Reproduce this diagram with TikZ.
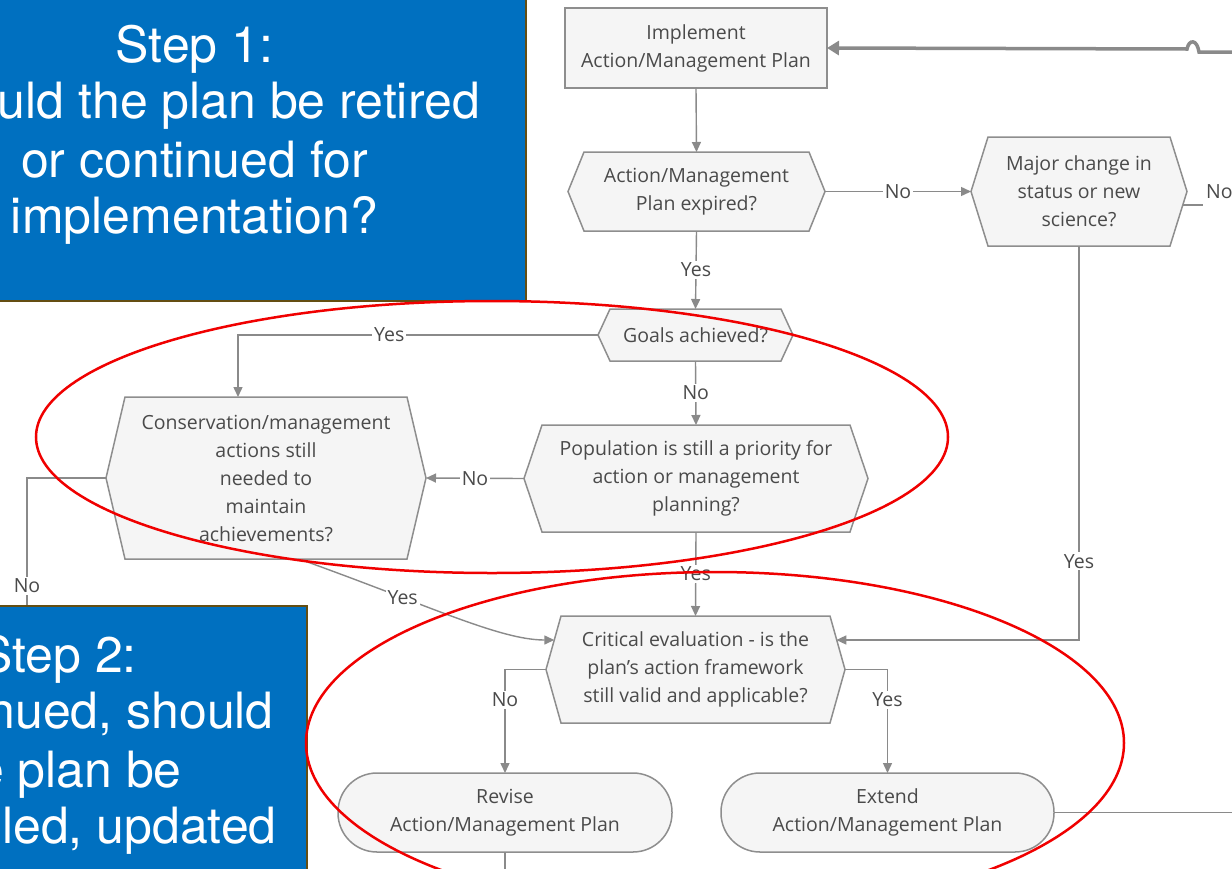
\documentclass[tikz,border=0pt]{standalone}
\usepackage{fontspec}
\setmainfont{Open Sans}
\newfontfamily\heros{TeX Gyre Heros}
\usetikzlibrary{arrows.meta,calc,backgrounds}
\pgfdeclarelayer{bottom}
\pgfsetlayers{bottom,background,main}
\definecolor{nfill}{HTML}{F5F5F5}
\definecolor{nborder}{HTML}{8E8E8E}
\definecolor{tgray}{HTML}{4A4A4A}
\definecolor{lgray}{HTML}{8A8A8A}
\definecolor{stepblue}{HTML}{0070C0}
\definecolor{stepbrown}{RGB}{100,78,18}
\definecolor{ringred}{HTML}{F00000}
\tikzset{
  flow/.style={font=\fontsize{19.5}{28}\selectfont, text=tgray, align=center, inner sep=0pt, outer sep=0pt},
  rectnode/.style={flow, rectangle, draw=nborder, fill=nfill, line width=1.5pt},
  hexbox/.style={flow, rectangle},
  hexline/.style={draw=nborder, fill=nfill, line width=1.5pt, line join=miter},
  stadium/.style={flow, rectangle, rounded corners=39pt, draw=nborder, fill=nfill, line width=1.5pt, minimum width=334pt, minimum height=79pt},
  conn/.style={draw=lgray, line width=1.4pt, -{Triangle[length=10pt,width=9pt]}},
  plainconn/.style={draw=lgray, line width=1.4pt},
  thickconn/.style={draw=lgray, line width=3.5pt, -{Triangle[length=12pt,width=14pt]}},
  lbl/.style={font=\fontsize{19.5}{22}\selectfont, text=tgray, fill=white, inner sep=2pt},
  stepbox/.style={fill=stepblue, draw=stepbrown, line width=2.5pt},
  steptext/.style={font=\heros\fontsize{50}{60}\selectfont, text=white, inner sep=0pt},
  ring/.style={draw=ringred, line width=2.5pt}
}
\newcommand{\hexoutline}[2]{%
  \begin{scope}[on background layer]
  \draw[hexline] ([xshift=#2]#1.north west) -- ([xshift=-#2]#1.north east) -- (#1.east)
    -- ([xshift=-#2]#1.south east) -- ([xshift=#2]#1.south west) -- (#1.west) -- cycle;
  \end{scope}}
\begin{document}
\begin{tikzpicture}[x=1pt,y=-1pt]
\useasboundingbox (0,0) rectangle (1232,868);
\clip (0,0) rectangle (1232,868);
\begin{pgfonlayer}{bottom}
\fill[white] (0,0) rectangle (1232,868);
\end{pgfonlayer}

% ---------- nodes ----------
\node[rectnode, minimum width=262pt, minimum height=80pt] (impl) at (696,48) {Implement\\Action/Management Plan};
\node[hexbox, minimum width=257pt, minimum height=79pt] (expired) at (696.5,191.5) {Action/Management\\Plan expired?};
\hexoutline{expired}{16pt}
\node[hexbox, minimum width=216pt, minimum height=109pt] (major) at (1079,191.5) {Major change in\\status or new\\science?};
\hexoutline{major}{17pt}
\node[hexbox, minimum width=195pt, minimum height=52pt] (goals) at (695.5,335) {Goals achieved?};
\hexoutline{goals}{12pt}
\node[hexbox, minimum width=320pt, minimum height=162pt] (cons) at (266,478) {Conservation/management\\actions still\\needed to\\maintain\\achievements?};
\hexoutline{cons}{19pt}
\node[hexbox, minimum width=344pt, minimum height=107pt] (pop) at (696,478.5) {Population is still a priority for\\action or management\\planning?};
\hexoutline{pop}{18pt}
\node[hexbox, minimum width=299pt, minimum height=107pt] (crit) at (695.5,669.5) {Critical evaluation - is the\\plan's action framework\\still valid and applicable?};
\hexoutline{crit}{15pt}
\node[stadium] (revise) at (505,812.5) {Revise\\Action/Management Plan};
\node[stadium, minimum width=333pt] (extend) at (887.5,812.5) {Extend\\Action/Management Plan};

% ---------- free ends ----------
\coordinate (topR) at (1240,52);
\coordinate (hopR) at (1199,52);
\coordinate (hopL) at (1187,49);
\coordinate (majR) at (1203,205);
\coordinate (consNo) at (27,640);
\coordinate (revB) at (505,880);
\coordinate (extR) at (1240,812.5);
\coordinate (critR) at ($(crit.east)+(-8.7,-29.5)$);
\coordinate (critL) at ($(crit.west)+(8.3,-29.5)$);
\coordinate (consB) at ($(cons.south)+(36,1)$);
\coordinate (majE) at ($(major.east)+(-4.2,13.5)$);

% ---------- connectors ----------
\draw[thickconn] (topR) -- (hopR) .. controls (1197,39) and (1189,39) .. (hopL) -- (impl.east);
\draw[conn] (impl.south) -- (expired.north);
\draw[conn] (expired.east) -- node[lbl] {No} (major.west);
\draw[plainconn] (majE) -- (majR);
\node[lbl, anchor=west, inner sep=0pt] (majNo) at (1206,192) {No};
\draw[conn] (expired.south) -- node[lbl] {Yes} (goals.north);
\draw[conn] (goals.west) -| node[lbl, pos=0.29] {Yes} ([xshift=-28pt]cons.north);
\draw[conn] (goals.south) -- node[lbl] {No} (pop.north);
\draw[conn] (pop.west) -- node[lbl] {No} (cons.east);
\draw[plainconn] (cons.west) -| node[lbl, pos=0.833] {No} (consNo);
\draw[conn] (pop.south) -- node[lbl] {Yes} (crit.north);
\draw[conn] (major.south) |- node[lbl, pos=0.40] {Yes} (critR);
\draw[conn] (consB) .. controls (430,606) and (500,640) .. node[lbl, pos=0.3] {Yes} (critL);
\draw[conn] (crit.west) -| node[lbl, pos=0.647] {No} (revise.north);
\draw[conn] (crit.east) -| node[lbl, pos=0.647] {Yes} (extend.north);
\draw[plainconn] (revise.south) -- (revB);
\draw[plainconn] (extend.east) -- (extR);

% ---------- step boxes ----------
\draw[stepbox] (-10,-10) rectangle (526,301);
\node[steptext, anchor=base] (s1a) at (194.5,62) {Step 1:};
\node[steptext, anchor=base east] (s1b) at (480,118) {uld the plan be retired};
\node[steptext, anchor=base] (s1c) at (194.5,177) {or continued for};
\node[steptext, anchor=base] (s1d) at (194.5,233) {implementation?};

\draw[stepbox] (-10,606) rectangle (307,880);
\node[steptext, anchor=base east] (s2a) at (137,672) {Step 2:};
\node[steptext, anchor=base east] (s2b) at (274,728) {nued, should};
\node[steptext, anchor=base east] (s2c) at (182,787) {e plan be};
\node[steptext, anchor=base west] (s2d) at (2,843) {led, updated};

% ---------- red rings ----------
\draw[ring] (492,437) ellipse [x radius=456pt, y radius=136pt];
\draw[ring] (715,743) ellipse [x radius=409pt, y radius=171pt];
\end{tikzpicture}
\end{document}
